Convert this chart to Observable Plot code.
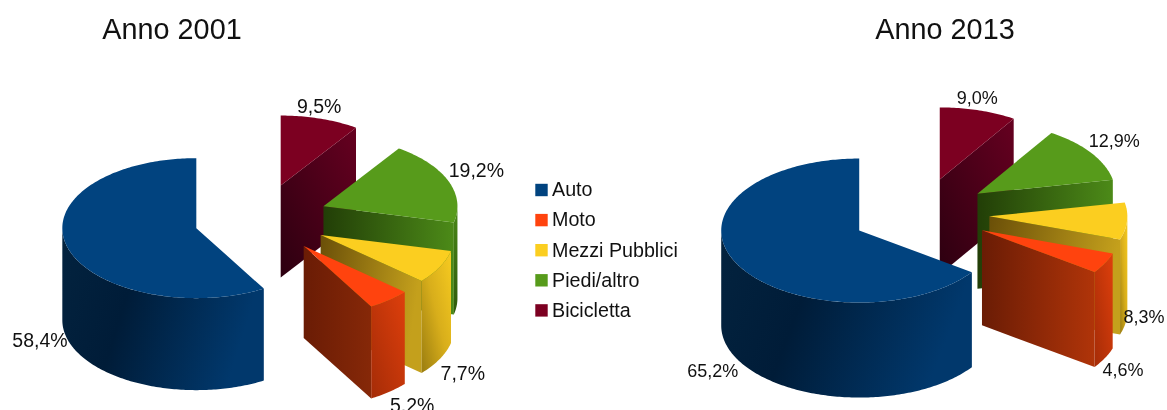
<!DOCTYPE html>
<html>
<head>
<meta charset="utf-8">
<script src="https://cdn.jsdelivr.net/npm/d3@7"></script>
<script src="https://cdn.jsdelivr.net/npm/@observablehq/plot@0.6"></script>
<style>html,body{margin:0;padding:0;background:#fff;overflow:hidden}svg{display:block;filter:blur(0.35px)}</style>
</head>
<body>
<div id="chart"></div>
<script>
const categories = ["Auto", "Moto", "Mezzi Pubblici", "Piedi/altro", "Bicicletta"];
const colors = ["#01437f", "#ff430e", "#fbce20", "#579b1b", "#7c0021"];
const values2001 = [58.4, 5.2, 7.7, 19.2, 9.5];
const values2013 = [65.2, 4.6, 8.3, 12.9, 9.0];
const titles = ["Anno 2001", "Anno 2013"];

// Layout of the two 3D pies (pixel space)
const W = 1167, H = 410;
const pies = [
  {title: titles[0], values: values2001, cx: 260.5, cy: 218.5, rx: 134, ry: 70, depth: 92, tx: 171.5, motoFace: "face1", labelSize: 19.5,
   labelDx: [-27, 23, 23, 28, -1], labelDy: [94.5, 105.5, 106.5, -10.5, -11.5]},
  {title: titles[1], values: values2013, cx: 920, cy: 213.5, rx: 138, ry: 72, depth: 95, tx: 944.5, motoFace: "face5", labelSize: 18,
   labelDx: [-24, 18, 17, 23, -1], labelDy: [107.5, 107.5, 96, -12, -12]}
];
const explode = 0.5;
const paintOrder = [4, 3, 2, 0, 1];

// Shading of the faces: [gradient vector, stops]
const shades = {
  wall: [
    [[0, 0, 1, 0.25], [[0, "#03233f"], [0.4, "#001c38"], [1, "#01386c"]]],
    [[1, 0, 0, 1], [[0, "#de3f0c"], [1, "#a52c07"]]],
    [[1, 0, 0, 1], [[0, "#f7cb20"], [0.5, "#d8ae1b"], [1, "#9a7d10"]]],
    [[0, 0, 0, 1], [[0, "#4a8817"], [1, "#2f5a0c"]]],
    [[0, 0, 0, 1], [[0, "#5a0019"], [1, "#2e0010"]]]
  ],
  face: [
    [[0, 0, 1, 0], [[0, "#001c38"], [1, "#01386c"]]],
    [[0, 0, 1, 0], [[0, "#6a1c05"], [1, "#862808"]]],
    [[0, 0, 1, 0.2], [[0, "#6a4f08"], [1, "#c4a01c"]]],
    [[0, 0, 1, 0], [[0, "#223e07"], [1, "#4c8a18"]]],
    [[1, 0, 0, 1], [[0, "#660020"], [1, "#2c0010"]]],
    [[0, 0, 1, 0], [[0, "#6a1c05"], [1, "#b03409"]]]
  ]
};

const rad = d => d * Math.PI / 180;

function slices(pie) {
  let a = 90;
  return pie.values.map((v, i) => {
    const e = a + v * 3.6, m = (a + e) / 2;
    const ax = pie.cx + explode * pie.rx * Math.cos(rad(m));
    const ay = pie.cy - explode * pie.ry * Math.sin(rad(m));
    const P = t => [ax + pie.rx * Math.cos(rad(t)), ay - pie.ry * Math.sin(rad(t))];
    const s = {i, a, e, m, ax, ay, P};
    a = e;
    return s;
  });
}

function arc(P, a, e) {
  const n = Math.max(2, Math.ceil(Math.abs(e - a)));
  return d3.range(n + 1).map(k => P(a + (e - a) * k / n));
}

const toRows = (pts) => pts.map(([x, y]) => ({x, y}));

const marks = [];

// gradient definitions
marks.push(() => {
  const defs = d3.create("svg:defs");
  for (const kind of ["wall", "face"]) {
    shades[kind].forEach(([v, stops], i) => {
      const g = defs.append("linearGradient").attr("id", `${kind}${i}`)
        .attr("x1", v[0]).attr("y1", v[1]).attr("x2", v[2]).attr("y2", v[3]);
      for (const [o, c] of stops) g.append("stop").attr("offset", o).attr("stop-color", c);
    });
  }
  return defs.node();
});

const labels = [];
for (const pie of pies) {
  const ss = slices(pie);
  for (const idx of paintOrder) {
    const s = ss[idx];
    const d = pie.depth;
    if (Math.cos(rad(s.a)) > 1e-6) {
      const p = s.P(s.a);
      const id = idx === 1 ? pie.motoFace : `face${idx}`;
      marks.push(Plot.line(toRows([[s.ax, s.ay], p, [p[0], p[1] + d], [s.ax, s.ay + d], [s.ax, s.ay]]),
        {x: "x", y: "y", fill: `url(#${id})`, stroke: "none"}));
    }
    const w0 = Math.max(s.a, 180), w1 = Math.min(s.e, 360);
    if (w1 > w0) {
      const up = arc(s.P, w0, w1);
      const down = up.map(([x, y]) => [x, y + d]).reverse();
      marks.push(Plot.line(toRows([...up, ...down, up[0]]),
        {x: "x", y: "y", fill: `url(#wall${idx})`, stroke: "none"}));
    }
    marks.push(Plot.line(
      [[s.ax, s.ay], ...arc(s.P, s.a, s.e), [s.ax, s.ay]].map(([x, y]) => ({x, y, c: categories[idx]})),
      {x: "x", y: "y", z: "c", fill: "c", stroke: "none"}));
  }
  for (const s of ss) {
    const p = s.P(s.m);
    labels.push({
      x: p[0] + pie.labelDx[s.i],
      y: p[1] + pie.labelDy[s.i],
      size: pie.labelSize,
      t: pie.values[s.i].toFixed(1).replace(".", ",") + "%"
    });
  }
}

const font = "'Liberation Sans', Arial, sans-serif";

marks.push(Plot.text(labels, {x: "x", y: "y", text: "t", fontSize: d => d.size, fontFamily: font, fill: "#111", textAnchor: "middle"}));
marks.push(Plot.text(pies, {x: "tx", y: () => 29, text: "title", fontSize: 28.8, fontFamily: font, fill: "#111", textAnchor: "middle"}));

// legend
const legend = categories.map((c, i) => ({c, x: 541, y: 189.5 + i * 30.1}));
marks.push(Plot.dot(legend, {x: "x", y: "y", symbol: "square", r: 7, fill: "c", stroke: "none"}));
marks.push(Plot.text(legend, {x: d => d.x + 10.5, y: "y", text: "c", fontSize: 19.7, fontFamily: font, fill: "#111", textAnchor: "start"}));

const chart = Plot.plot({
  width: W, height: H,
  margin: 0,
  style: {background: "#fff"},
  x: {domain: [0, W], range: [0, W], axis: null},
  y: {domain: [0, H], range: [0, H], axis: null},
  color: {domain: categories, range: colors},
  marks
});
document.getElementById("chart").append(chart);
</script>
</body>
</html>
